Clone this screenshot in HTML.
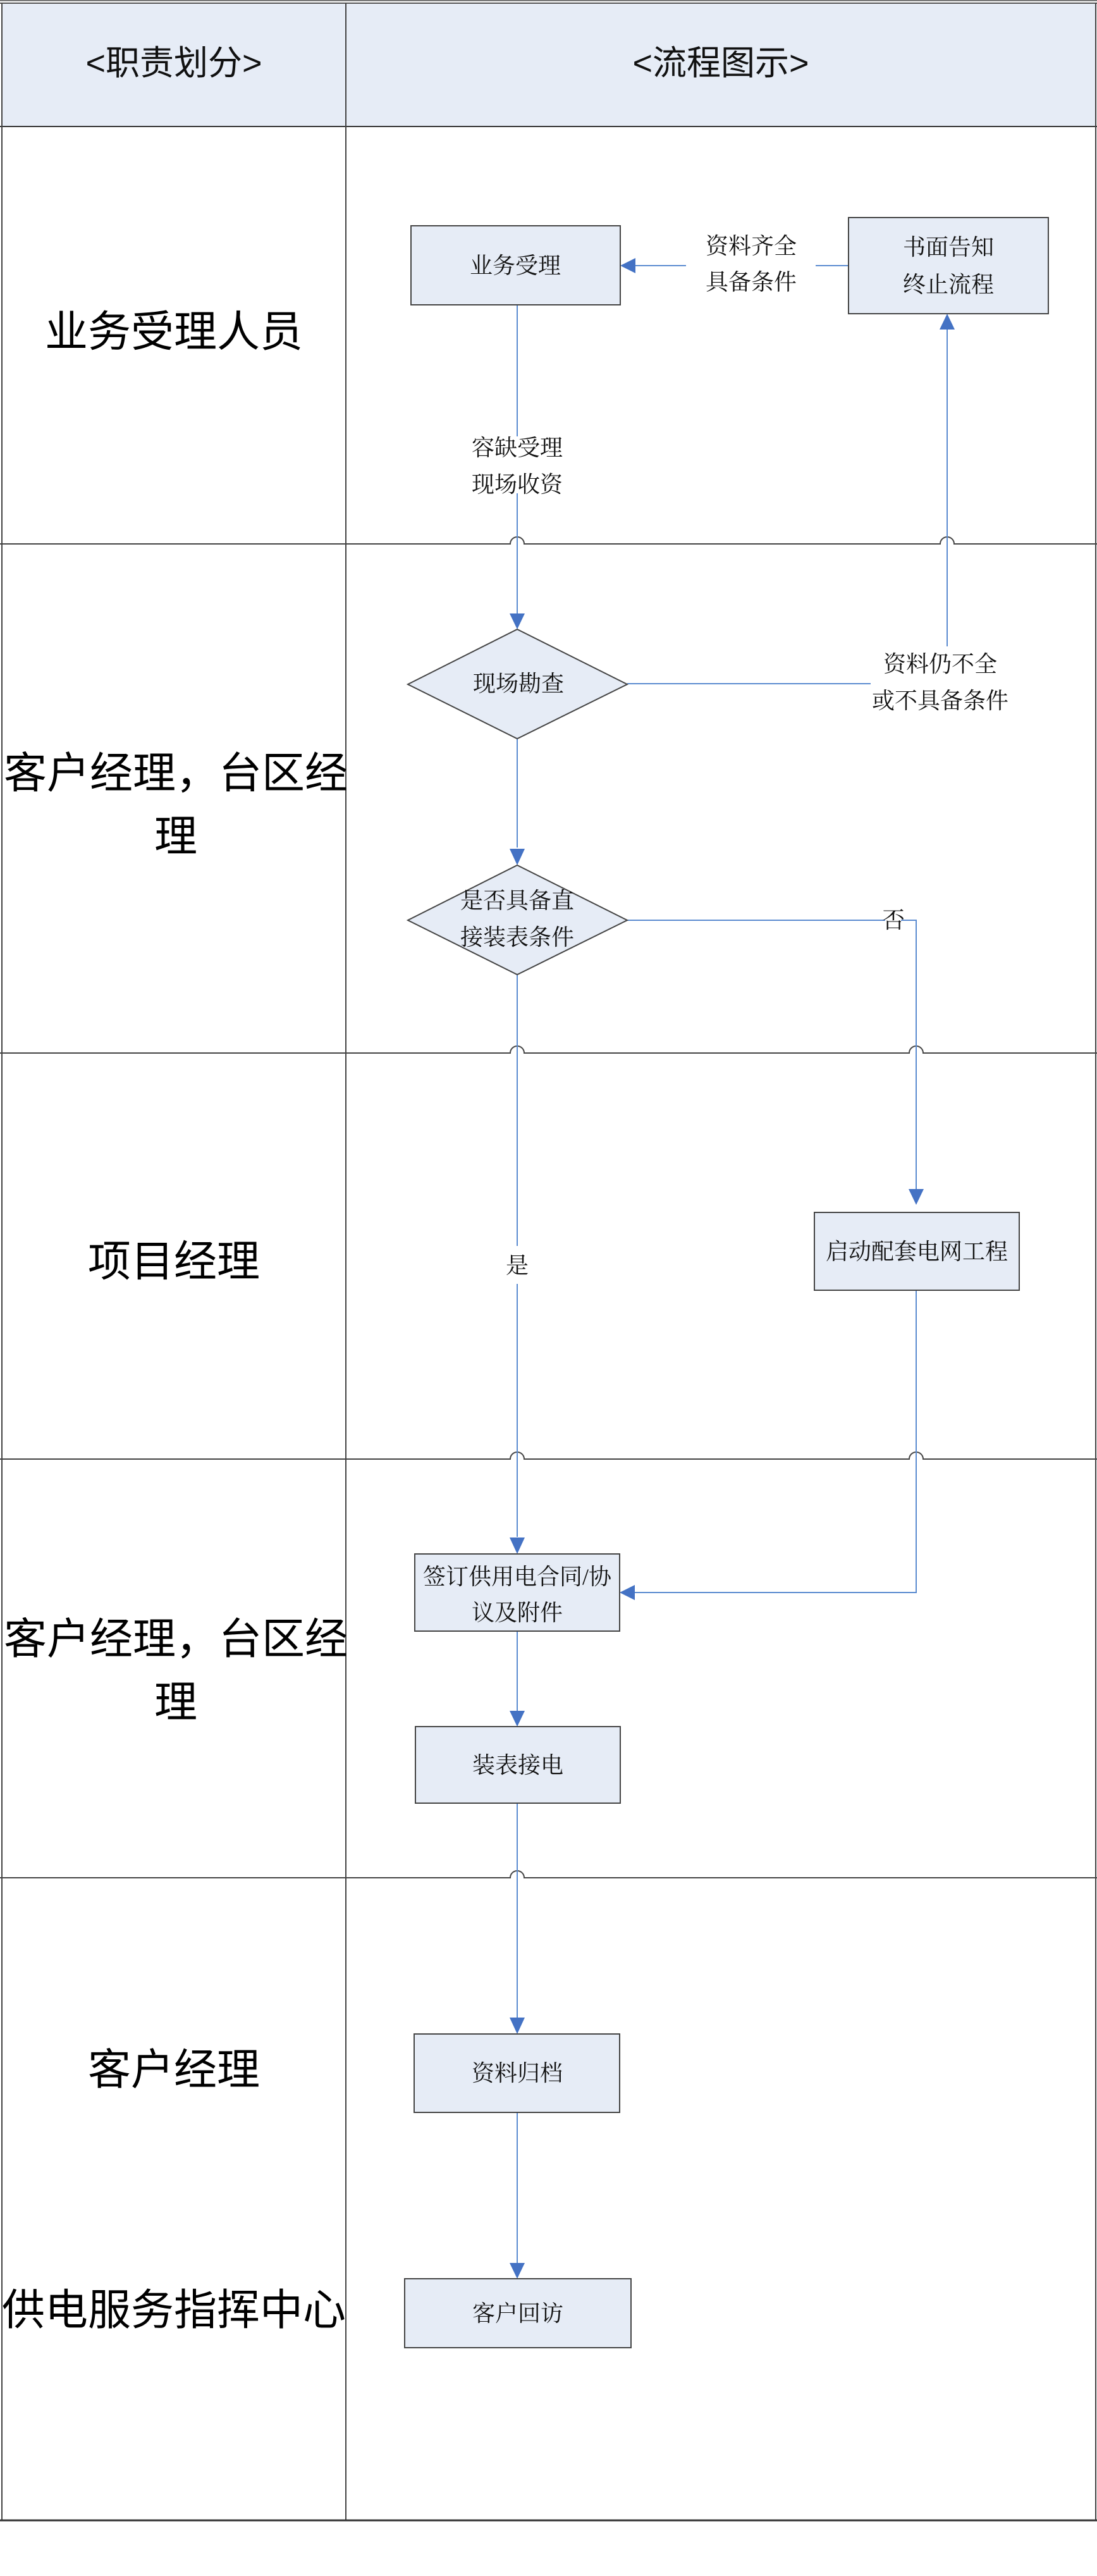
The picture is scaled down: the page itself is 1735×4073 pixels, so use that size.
<!DOCTYPE html>
<html><head><meta charset="utf-8"><style>
html,body{margin:0;padding:0;background:#fff;}
svg{display:block;}
.lane{font-family:"Liberation Sans","Noto Sans CJK SC",sans-serif;font-size:68px;fill:#000;text-anchor:middle;}
.hd{font-family:"Liberation Sans","Noto Sans CJK SC",sans-serif;font-size:54px;fill:#111;text-anchor:middle;}
.bx{font-family:"Liberation Serif","Noto Serif CJK SC",serif;font-size:36px;fill:#111;text-anchor:middle;}
</style></head><body>
<svg width="1735" height="4073" viewBox="0 0 1735 4073" xmlns="http://www.w3.org/2000/svg">
<!-- header -->
<rect x="2" y="5" width="1731" height="195" fill="#e6ecf6"/>
<line x1="0" y1="1" x2="1735" y2="1" stroke="#777" stroke-width="2"/>
<line x1="0" y1="5" x2="1735" y2="5" stroke="#555" stroke-width="2"/>
<line x1="0" y1="200" x2="1735" y2="200" stroke="#333" stroke-width="2"/>
<!-- outer borders -->
<line x1="3" y1="5" x2="3" y2="3985" stroke="#444" stroke-width="2"/>
<line x1="1733" y1="5" x2="1733" y2="3985" stroke="#444" stroke-width="2"/>
<line x1="547" y1="5" x2="547" y2="3985" stroke="#444" stroke-width="2"/>
<line x1="0" y1="3985" x2="1735" y2="3985" stroke="#333" stroke-width="3"/>
<!-- lane lines with jumps -->
<g fill="none" stroke="#444" stroke-width="2">
<path d="M0 860 H807 A11 11 0 0 1 829 860 H1487 A11 11 0 0 1 1509 860 H1735"/>
<path d="M0 1665 H807 A11 11 0 0 1 829 1665 H1438 A11 11 0 0 1 1460 1665 H1735"/>
<path d="M0 2307 H807 A11 11 0 0 1 829 2307 H1438 A11 11 0 0 1 1460 2307 H1735"/>
<path d="M0 2969 H807 A11 11 0 0 1 829 2969 H1735"/>
</g>
<text class="hd" x="275" y="118">&lt;职责划分&gt;</text>
<text class="hd" x="1140" y="118">&lt;流程图示&gt;</text>
<!-- lane labels -->
<text class="lane" x="275" y="548">业务受理人员</text>
<text class="lane" x="278" y="1246">客户经理，台区经</text>
<text class="lane" x="278" y="1346">理</text>
<text class="lane" x="275" y="2018">项目经理</text>
<text class="lane" x="278" y="2615">客户经理，台区经</text>
<text class="lane" x="278" y="2715">理</text>
<text class="lane" x="275" y="3296">客户经理</text>
<text class="lane" x="275" y="3676">供电服务指挥中心</text>
<!-- connectors -->
<g fill="none" stroke="#5b8bd0" stroke-width="2">
<line x1="818" y1="482" x2="818" y2="690"/>
<line x1="818" y1="780" x2="818" y2="970"/>
<line x1="818" y1="1168" x2="818" y2="1340"/>
<line x1="818" y1="1541" x2="818" y2="1970"/>
<line x1="818" y1="2030" x2="818" y2="2430"/>
<line x1="818" y1="2579" x2="818" y2="2705"/>
<line x1="818" y1="2851" x2="818" y2="3190"/>
<line x1="818" y1="3340" x2="818" y2="3578"/>
<line x1="1342" y1="420" x2="1290" y2="420"/>
<line x1="1085" y1="420" x2="1005" y2="420"/>
<line x1="992" y1="1081" x2="1377" y2="1081"/>
<line x1="1498" y1="1022" x2="1498" y2="520"/>
<line x1="992" y1="1455" x2="1400" y2="1455"/>
<polyline points="1425,1455 1449,1455 1449,1880"/>
<polyline points="1449,2040 1449,2518 1004,2518"/>
</g>
<g fill="#4472c4">
<polygon points="806,970 830,970 818,995"/>
<polygon points="806,1342 830,1342 818,1368"/>
<polygon points="806,2431 830,2431 818,2457"/>
<polygon points="806,2705 830,2705 818,2730"/>
<polygon points="806,3190 830,3190 818,3216"/>
<polygon points="806,3578 830,3578 818,3603"/>
<polygon points="1437,1880 1461,1880 1449,1905"/>
<polygon points="981,420 1005,408 1005,432"/>
<polygon points="1498,496 1486,521 1510,521"/>
<polygon points="980,2518 1004,2506 1004,2530"/>
</g>
<!-- shapes -->
<g fill="#e6ecf6" stroke="#444" stroke-width="2">
<rect x="650" y="357" width="331" height="125"/>
<rect x="1342" y="344" width="316" height="152"/>
<polygon points="645,1082 818,995 992,1082 818,1168"/>
<polygon points="645,1455 818,1368 992,1455 818,1541"/>
<rect x="1288" y="1917" width="324" height="123"/>
<rect x="656" y="2457" width="324" height="122"/>
<rect x="657" y="2730" width="324" height="121"/>
<rect x="655" y="3216" width="325" height="124"/>
<rect x="640" y="3603" width="358" height="109"/>
</g>
<!-- texts -->
<text class="bx" x="815" y="432">业务受理</text>
<text class="bx" x="1500" y="403">书面告知</text>
<text class="bx" x="1500" y="462">终止流程</text>
<text class="bx" x="1188" y="401">资料齐全</text>
<text class="bx" x="1188" y="458">具备条件</text>
<text class="bx" x="818" y="720">容缺受理</text>
<text class="bx" x="818" y="778">现场收资</text>
<text class="bx" x="820" y="1093">现场勘查</text>
<text class="bx" x="1487" y="1062">资料仍不全</text>
<text class="bx" x="1487" y="1120">或不具备条件</text>
<text class="bx" x="818" y="1436">是否具备直</text>
<text class="bx" x="818" y="1494">接装表条件</text>
<text class="bx" x="1413" y="1467">否</text>
<text class="bx" x="818" y="2013">是</text>
<text class="bx" x="1450" y="1991">启动配套电网工程</text>
<text class="bx" x="818" y="2505">签订供用电合同/协</text>
<text class="bx" x="818" y="2562">议及附件</text>
<text class="bx" x="819" y="2803">装表接电</text>
<text class="bx" x="818" y="3290">资料归档</text>
<text class="bx" x="819" y="3670">客户回访</text>
</svg>
</body></html>
